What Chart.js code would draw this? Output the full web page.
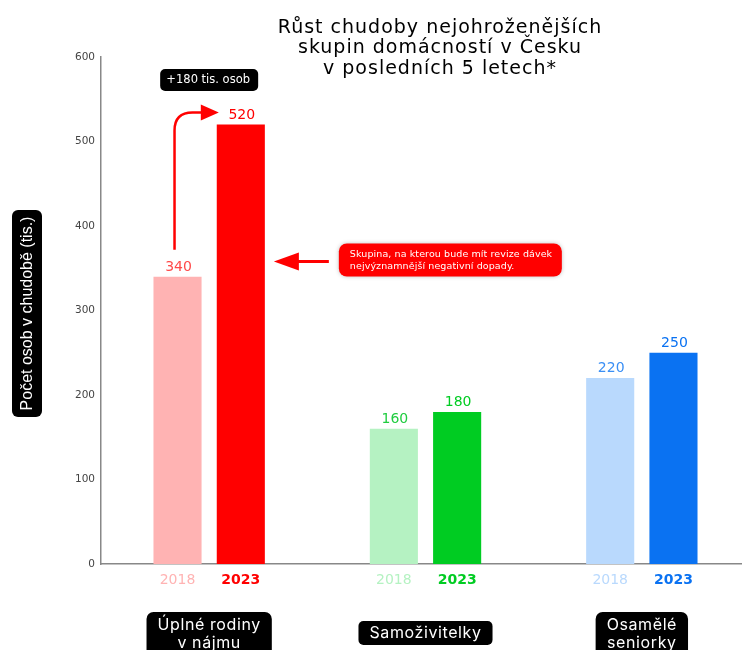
<!DOCTYPE html>
<html>
<head>
<meta charset="utf-8">
<script src="https://cdn.jsdelivr.net/npm/chart.js@4"></script>
<style>
  html, body { margin: 0; padding: 0; background: #fff; overflow: hidden; }
  #wrap { width: 750px; height: 650px; }
</style>
</head>
<body>
<div id="wrap"><canvas id="chart" width="750" height="650"></canvas></div>
<script>
// data
var groups = ['Úplné rodiny\nv nájmu', 'Samoživitelky', 'Osamělé\nseniorky'];
var years = ['2018', '2023'];
var values2018 = [340, 160, 220];
var values2023 = [520, 180, 250];
var yTicks = [0, 100, 200, 300, 400, 500, 600];
var titleLines = ['Růst chudoby nejohroženějších', 'skupin domácností v Česku', 'v posledních 5 letech*'];
var yTitle = 'Počet osob v chudobě (tis.)';
var changeNote = '+180 tis. osob';
var calloutLines = ['Skupina, na kterou bude mít revize dávek', 'nejvýznamnější negativní dopady.'];

var light = ['#ffb3b3', '#b5f2c2', '#b9d9fd'];
var dark = ['#ff0000', '#00cc22', '#0a72f2'];
var mid = ['#ff4a4a', '#1fcc3f', '#3a8ff5'];

function rrect(ctx, x, y, w, h, r, fill) {
  ctx.beginPath();
  ctx.roundRect(x, y, w, h, r);
  ctx.fillStyle = fill;
  ctx.fill();
}

var decor = {
  id: 'decor',
  afterDatasetsDraw: function (chart) {
    var ctx = chart.ctx;
    var xs = chart.scales.x;
    var m0 = chart.getDatasetMeta(0), m1 = chart.getDatasetMeta(1);
    ctx.save();

    // title
    ctx.fillStyle = '#000';
    ctx.font = '19px "DejaVu Sans"';
    ctx.letterSpacing = '1px';
    ctx.textAlign = 'center';
    ctx.textBaseline = 'middle';
    titleLines.forEach(function (t, i) { ctx.fillText(t, 440, 28 + i * 20.5); });
    ctx.letterSpacing = '0px';

    // y title box
    rrect(ctx, 12, 210, 30, 207, 6, '#000');
    ctx.save();
    ctx.translate(27, 313.5);
    ctx.rotate(-Math.PI / 2);
    ctx.fillStyle = '#fff';
    ctx.font = '16px "Liberation Sans"';
    ctx.fillText(yTitle, 0, 1);
    ctx.restore();

    // value labels + year labels
    [m0, m1].forEach(function (meta, di) {
      meta.data.forEach(function (bar, i) {
        var v = chart.data.datasets[di].data[i];
        ctx.font = '14px "DejaVu Sans"';
        ctx.textAlign = 'center';
        ctx.textBaseline = 'alphabetic';
        ctx.fillStyle = di === 0 ? mid[i] : dark[i];
        ctx.fillText(String(v), bar.x + 1, bar.y - 6);
        ctx.font = (di === 0 ? '' : 'bold ') + '14px "DejaVu Sans"';
        ctx.fillStyle = di === 0 ? light[i] : dark[i];
        ctx.textBaseline = 'middle';
        ctx.fillText(years[di], bar.x, 580);
      });
    });

    // group boxes
    ctx.font = '16px Inter';
    ctx.letterSpacing = '0.6px';
    ctx.textBaseline = 'middle';
    groups.forEach(function (g, i) {
      var cx = xs.getPixelForValue(i);
      var lines = g.split('\n');
      var w = 0;
      lines.forEach(function (l) { w = Math.max(w, ctx.measureText(l).width); });
      w += 22;
      if (lines.length > 1) {
        rrect(ctx, cx - w / 2, 612, w, 48, 7, '#000');
        ctx.fillStyle = '#fff';
        ctx.fillText(lines[0], cx, 625);
        ctx.fillText(lines[1], cx, 643);
      } else {
        rrect(ctx, cx - w / 2, 621, w, 24, 5, '#000');
        ctx.fillStyle = '#fff';
        ctx.fillText(lines[0], cx, 633);
      }
    });
    ctx.letterSpacing = '0px';

    // +180 note and arrow
    var b1 = m0.data[0], b2 = m1.data[0];
    var gx = xs.getPixelForValue(0);
    rrect(ctx, gx - 49, 69, 98, 22, 5, '#000');
    ctx.fillStyle = '#fff';
    ctx.font = '11.5px "DejaVu Sans"';
    ctx.fillText(changeNote, gx - 1, 80.5);

    var ax = b1.x - 3, ay = b2.y - 12;
    ctx.strokeStyle = '#ff0000';
    ctx.lineWidth = 2.5;
    ctx.beginPath();
    ctx.moveTo(ax, b1.y - 27);
    ctx.lineTo(ax, ay + 18);
    ctx.quadraticCurveTo(ax, ay, ax + 18, ay);
    ctx.lineTo(b2.x - 38, ay);
    ctx.stroke();
    ctx.fillStyle = '#ff0000';
    ctx.beginPath();
    ctx.moveTo(b2.x - 22, ay);
    ctx.lineTo(b2.x - 40, ay - 8);
    ctx.lineTo(b2.x - 40, ay + 8);
    ctx.closePath();
    ctx.fill();

    // callout
    var tx = b2.x + b2.width / 2 + 9, ty = chart.scales.y.getPixelForValue(358);
    ctx.beginPath();
    ctx.moveTo(tx, ty);
    ctx.lineTo(tx + 25, ty - 9);
    ctx.lineTo(tx + 25, ty + 9);
    ctx.closePath();
    ctx.fill();
    ctx.lineWidth = 3;
    ctx.beginPath();
    ctx.moveTo(tx + 20, ty);
    ctx.lineTo(tx + 55, ty);
    ctx.stroke();
    ctx.save();
    ctx.shadowColor = 'rgba(0,0,0,0.25)';
    ctx.shadowBlur = 4;
    rrect(ctx, tx + 65, ty - 18, 223, 33, 8, '#ff0000');
    ctx.restore();
    ctx.fillStyle = '#fff';
    ctx.font = '9.5px "DejaVu Sans"';
    ctx.letterSpacing = '0.1px';
    ctx.textAlign = 'left';
    ctx.fillText(calloutLines[0], tx + 76, ty - 7);
    ctx.fillText(calloutLines[1], tx + 76, ty + 5);
    ctx.letterSpacing = '0px';

    ctx.restore();
  }
};

new Chart(document.getElementById('chart'), {
  type: 'bar',
  data: {
    labels: groups,
    datasets: [
      { label: years[0], data: values2018, backgroundColor: light, categoryPercentage: 0.585, barPercentage: 0.76 },
      { label: years[1], data: values2023, backgroundColor: dark, categoryPercentage: 0.585, barPercentage: 0.76 }
    ]
  },
  options: {
    responsive: false,
    animation: false,
    layout: { padding: { top: 57, bottom: 86, left: 0, right: 0 } },
    plugins: { legend: { display: false }, tooltip: { enabled: false }, title: { display: false } },
    scales: {
      x: {
        grid: { display: false },
        ticks: { display: false },
        border: { color: '#888', width: 1.5 },
        afterFit: function (a) { a.height = 0; }
      },
      y: {
        min: yTicks[0],
        max: yTicks[yTicks.length - 1],
        afterBuildTicks: function (a) { a.ticks = yTicks.map(function (v) { return { value: v }; }); },
        grid: { display: false, drawTicks: false },
        border: { color: '#888', width: 1.5 },
        ticks: { color: '#444', padding: 6, font: { family: 'DejaVu Sans', size: 10.5 } },
        afterFit: function (a) { a.width = 101; }
      }
    }
  },
  plugins: [decor]
});
</script>
</body>
</html>
